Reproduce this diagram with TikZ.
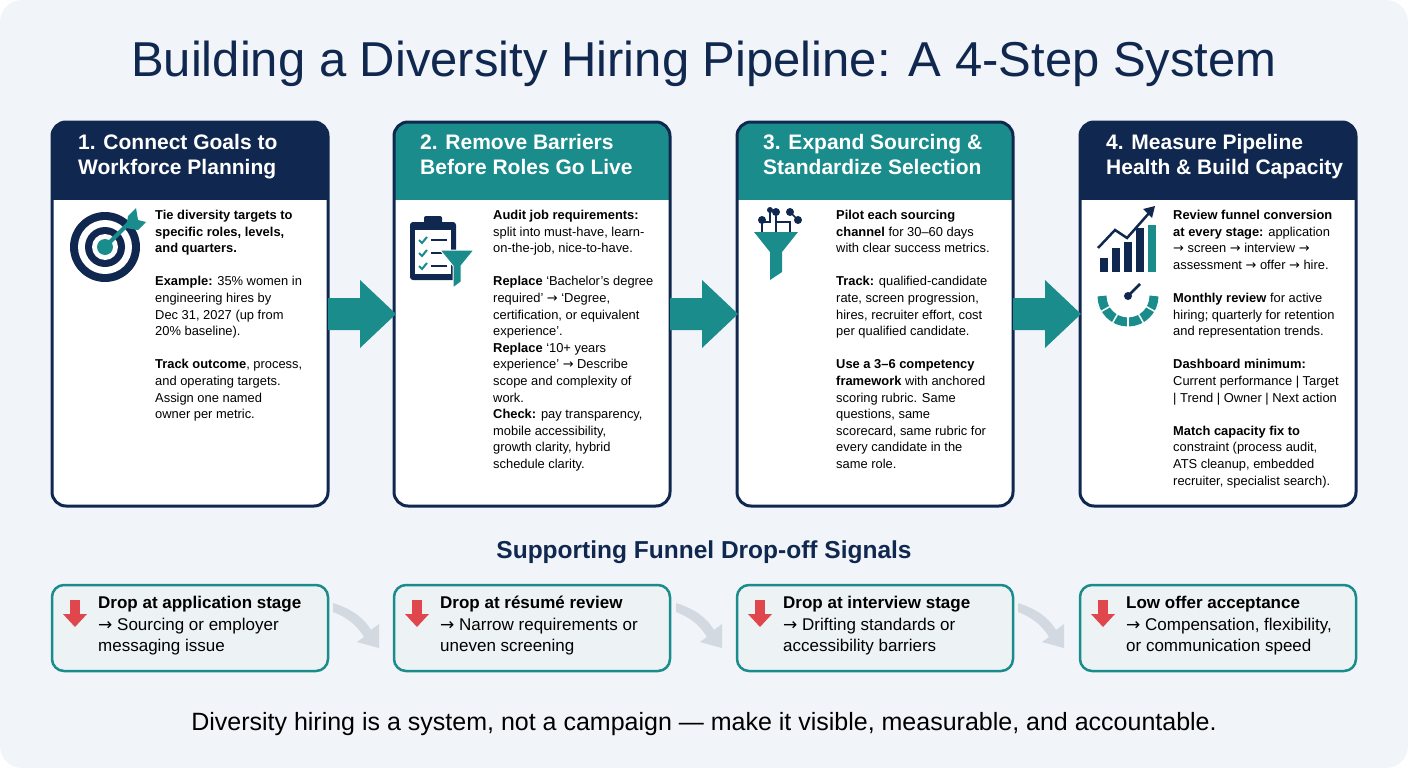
\documentclass[tikz,border=0pt]{standalone}
\usepackage{fontspec}
\setmainfont{Liberation Sans}
\newfontfamily\dejavu{DejaVu Sans}
\newcommand\ra{{\dejavu →}}
\usetikzlibrary{arrows.meta}
\definecolor{navy}{HTML}{10284F}
\definecolor{teal}{HTML}{1A8C8C}
\definecolor{bg}{HTML}{F1F4F8}
\definecolor{boxbg}{HTML}{EDF2F4}
\definecolor{redd}{HTML}{E0474C}
\definecolor{grayarr}{HTML}{D3D9E0}
\begin{document}
\begin{tikzpicture}[x=1pt,y=-1pt,
  body/.style={anchor=north west,align=left,font=\fontsize{12.9}{16.6}\selectfont,text=black,inner sep=0pt},
  head/.style={anchor=north west,align=left,font=\fontsize{21}{25.5}\selectfont\bfseries,text=white,inner sep=0pt},
  sig/.style={anchor=north west,align=left,font=\fontsize{17}{21.5}\selectfont,inner sep=0pt},
]
\fill[bg,rounded corners=22] (0,0) rectangle (1408,768);
\useasboundingbox (0,0) rectangle (1408,768);
\node[font=\fontsize{49}{54}\selectfont,text=navy] (title) at (704,64) {Building a Diversity Hiring Pipeline: A 4-Step System};

\newcommand\mycard[4]{%
  \begin{scope}
  \clip[rounded corners=14] (#1,122) rectangle ++(276,384);
  \fill[white] (#1,122) rectangle ++(276,384);
  \fill[#2] (#1,122) rectangle ++(276,78);
  \end{scope}
  \draw[navy,line width=3pt,rounded corners=14] (#1,122) rectangle ++(276,384);
  \node[head] (h#3) at (#1+26,134) {#4};
}
\mycard{52}{navy}{1}{1. Connect Goals to\\Workforce Planning}
\mycard{394}{teal}{2}{2. Remove Barriers\\Before Roles Go Live}
\mycard{737}{teal}{3}{3. Expand Sourcing \&\\Standardize Selection}
\mycard{1080}{navy}{4}{4. Measure Pipeline\\Health \& Build Capacity}

\node[body] (b1) at (155,210) {\textbf{Tie diversity targets to}\\\textbf{specific roles, levels,}\\\textbf{and quarters.}\\[16.6pt]
\textbf{Example:} 35\% women in\\engineering hires by\\Dec 31, 2027 (up from\\20\% baseline).\\[16.6pt]
\textbf{Track outcome}, process,\\and operating targets.\\Assign one named\\owner per metric.};

\node[body] (b2) at (493,210) {\textbf{Audit job requirements:}\\split into must-have, learn-\\on-the-job, nice-to-have.\\[16.6pt]
\textbf{Replace} ‘Bachelor’s degree\\required’ \ra{} ‘Degree,\\certification, or equivalent\\experience’.\\\textbf{Replace} ‘10+ years\\experience’ \ra{} Describe\\scope and complexity of\\work.\\\textbf{Check:} pay transparency,\\mobile accessibility,\\growth clarity, hybrid\\schedule clarity.};

\node[body] (b3) at (836,210) {\textbf{Pilot each sourcing}\\\textbf{channel} for 30–60 days\\with clear success metrics.\\[16.6pt]
\textbf{Track:} qualified-candidate\\rate, screen progression,\\hires, recruiter effort, cost\\per qualified candidate.\\[16.6pt]
\textbf{Use a 3–6 competency}\\\textbf{framework} with anchored\\scoring rubric. Same\\questions, same\\scorecard, same rubric for\\every candidate in the\\same role.};

\node[body] (b4) at (1173,210) {\textbf{Review funnel conversion}\\\textbf{at every stage:} application\\\ra{} screen \ra{} interview \ra\\assessment \ra{} offer \ra{} hire.\\[16.6pt]
\textbf{Monthly review} for active\\hiring; quarterly for retention\\and representation trends.\\[16.6pt]
\textbf{Dashboard minimum:}\\Current performance | Target\\| Trend | Owner | Next action\\[16.6pt]
\textbf{Match capacity fix to}\\constraint (process audit,\\ATS cleanup, embedded\\recruiter, specialist search).};

% big arrows
\foreach \x in {328,670,1013}{
  \fill[teal] (\x,298) -- (\x+32,298) -- (\x+32,280) -- (\x+68,314) -- (\x+32,348) -- (\x+32,330) -- (\x,330) -- cycle;
}

% icon 1 target
\fill[navy] (105,247) circle (35);
\fill[white] (105,247) circle (27);
\fill[navy] (105,247) circle (20);
\fill[white] (105,247) circle (13);
\fill[teal] (105,247) circle (8);
\draw[teal,line width=4pt] (106,246) -- (133,219);
\fill[teal] (128,216) -- (136,208) -- (138,220) -- (146,222) -- (138,230) -- (126,228) -- cycle;

% icon 2 clipboard + funnel
\fill[navy,rounded corners=3] (410,222) rectangle (456,280);
\fill[white] (415,230) rectangle (451,274);
\fill[navy,rounded corners=2] (424,216) rectangle (442,228);
\foreach \yy in {240,253,266}{
  \draw[teal,line width=2pt] (419,\yy) -- (422,\yy+3) -- (427,\yy-3);
  \draw[navy,line width=2pt] (431,\yy) -- (447,\yy);
}
\fill[teal] (440,250) -- (474,250) -- (461,266) -- (461,282) -- (453,288) -- (453,266) -- cycle;
\draw[white,line width=1pt] (440,250) -- (474,250) -- (461,266) -- (461,282) -- (453,288) -- (453,266) -- cycle;

% icon 3 network + funnel
\fill[teal] (754,232) -- (798,232) -- (782,252) -- (782,272) -- (770,280) -- (770,252) -- cycle;
\draw[navy,line width=1.5pt] (762,222) -- (762,232);
\draw[navy,line width=1.5pt] (776,212) -- (776,232);
\draw[navy,line width=1.5pt] (776,222) -- (790,222) -- (790,232);
\draw[navy,line width=1.5pt] (762,222) -- (770,222) -- (770,212);
\fill[navy] (762,220) circle (4); \fill[navy] (776,212) circle (4);
\fill[navy] (790,212) circle (4); \fill[navy] (770,210) circle (3);
\fill[navy] (798,220) circle (4);
\draw[navy,line width=1.5pt] (790,212) -- (798,220);

% icon 4 chart + gauge
\foreach \xx/\hh in {1100/14,1112/24,1124/30,1136/44}{\fill[navy] (\xx,272-\hh) rectangle ++(8,\hh);}
\fill[teal] (1148,225) rectangle ++(8,47);
\draw[navy,line width=2.5pt] (1098,248) -- (1115,230) -- (1127,238) -- (1150,212);
\fill[navy] (1155,206) -- (1143,209) -- (1152,218) -- cycle;
\draw[teal,line width=9pt] (1102,296) arc (180:0:26);
\foreach \a in {150,120,90,60,30}{\draw[white,line width=1.5pt] (1128,296) ++(\a:21) -- ++(\a:10);}
\fill[navy] (1128,296) circle (4);
\draw[navy,line width=2.5pt] (1128,296) -- (1140,284);

% subtitle
\node[font=\fontsize{24.5}{28}\selectfont\bfseries,text=navy] (sub) at (704,552) {Supporting Funnel Drop-off Signals};

% signal boxes
\newcommand\sigbox[3]{%
  \draw[teal,line width=2.5pt,fill=boxbg,rounded corners=12] (#1,585) rectangle ++(276,86);
  \fill[redd] (#1+18,600) rectangle ++(10,14);
  \fill[redd] (#1+11,614) -- (#1+35,614) -- (#1+23,627) -- cycle;
  \node[sig] (s#2) at (#1+46,596) {#3};
}
\sigbox{52}{1}{\textbf{Drop at application stage}\\\ra{} Sourcing or employer\\messaging issue}
\sigbox{394}{2}{\textbf{Drop at résumé review}\\\ra{} Narrow requirements or\\uneven screening}
\sigbox{737}{3}{\textbf{Drop at interview stage}\\\ra{} Drifting standards or\\accessibility barriers}
\sigbox{1080}{4}{\textbf{Low offer acceptance}\\\ra{} Compensation, flexibility,\\or communication speed}

\foreach \x in {333,676,1018}{
  \fill[grayarr] (\x,603) .. controls (\x+22,610) and (\x+32,620) .. (\x+38,630) -- (\x+46,624) -- (\x+46,648) -- (\x+24,642) -- (\x+31,637) .. controls (\x+25,627) and (\x+16,618) .. (\x,612) -- cycle;
}

\node[font=\fontsize{25}{30}\selectfont] (foot) at (704,724) {Diversity hiring is a system, not a campaign — make it visible, measurable, and accountable.};
\end{tikzpicture}
\end{document}
